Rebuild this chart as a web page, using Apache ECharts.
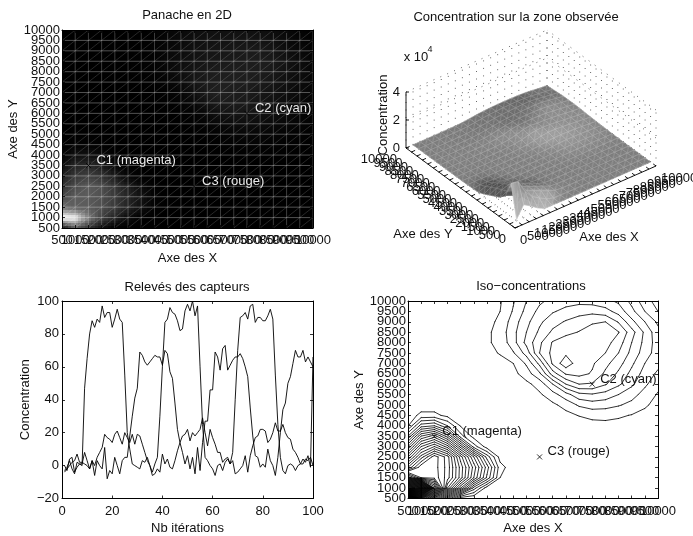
<!DOCTYPE html>
<html><head><meta charset="utf-8">
<style>html,body{margin:0;padding:0;background:#fff}#c{width:693px;height:536px}</style>
<script src="https://cdn.jsdelivr.net/npm/echarts@6/dist/echarts.min.js"></script>
</head><body><div id="c"></div>
<script>
const titles = ['Panache en 2D','Concentration sur la zone observée','Relevés des capteurs','Iso\u2212concentrations'];
const gridValues = [500,1000,1500,2000,2500,3000,3500,4000,4500,5000,5500,6000,6500,7000,7500,8000,8500,9000,9500,10000];
const tickLabels = ['500','1000','1500','2000','2500','3000','3500','4000','4500','5000','5500','6000','6500','7000','7500','8000','8500','9000','9500','10000'];
const tick3D = [0,500,1000,1500,2000,2500,3000,3500,4000,4500,5000,5500,6000,6500,7000,7500,8000,8500,9000,9500,10000];
const zTicks = [0,2,4];
// rows: Y = 500 ... 10000, columns: X = 500 ... 10000, in contour-level units
const concentration = [
[2,18,12,5,.1,.05,0,0,0,0,0,0,0,0,0,0,0,0,0,0],
[46,44,26,15,9,3.5,.4,.1,0,0,0,0,0,0,0,0,0,0,0,0],
[24,20,19.7,17.5,13.5,9,4.8,1,.3,.1,0,0,0,0,0,0,0,0,0,0],
[16,19.8,19.5,17.6,13.6,9.6,5.5,1.4,.4,.1,0,0,0,0,0,0,0,0,0,0],
[12,16.5,19.6,17.5,12.5,8,3.6,.6,.15,.05,0,0,0,0,0,0,0,0,0,0],
[8,13,15,12.5,7.5,2.5,.5,.1,0,0,0,0,0,0,0,0,0,0,0,0],
[4,9,10.5,7.5,2.4,.6,.1,0,0,0,0,0,0,0,.05,.1,.1,.1,.05,.05],
[.9,4.5,5,3,.9,.2,0,0,0,.05,.1,.15,.3,.4,.6,.7,.65,.5,.35,.2],
[.4,1.3,1.3,.7,.25,.1,0,0,.05,.1,.2,.4,.7,1.05,1.3,1.3,1.15,.95,.7,.4],
[.2,.4,.4,.2,.1,.1,0,.05,.1,.2,.45,.8,1.35,2.15,2.5,2.4,2.1,1.7,1.15,.65],
[.1,.1,.1,.1,.1,.1,.05,.1,.2,.4,.85,1.6,2.6,3.7,3.9,3.6,3,2.4,1.6,.9],
[.1,.1,.1,.1,.1,.1,.1,.2,.4,.75,1.4,3,5,6,5.9,5.1,4.2,3.2,2.2,1.3],
[.1,.1,.1,.1,.1,.1,.2,.4,.7,1.5,2.8,5.5,7.1,7.3,6.9,5.8,4.8,3.7,2.6,1.8],
[.1,.1,.1,.1,.2,.2,.3,.55,1,2.15,4.3,7.2,8.65,7.4,7.15,6.3,5.4,4.2,3,2.3],
[.1,.1,.2,.2,.3,.4,.6,1.1,1.9,3.4,6,7.3,7.8,7.9,7.7,7,6,4.7,3.5,2.5],
[.1,.2,.2,.3,.4,.6,.85,1.3,2.6,4.3,5.8,7.1,7.6,7.7,7.75,7.4,6.5,5,3.7,2.5],
[.1,.2,.2,.3,.4,.6,.8,1.4,2.7,4,5.2,6.2,6.7,7.05,7.35,7.6,7.05,5.4,3.8,2.3],
[.1,.2,.2,.3,.4,.5,.7,1.2,2.5,3.7,4.8,5.6,6.1,6.5,6.9,7,5.9,4.3,3,1.8],
[.1,.1,.2,.2,.3,.4,.5,1,2.1,3.3,4.3,4.9,5.3,5.6,5.7,5.4,4.6,3.3,2,1],
[.1,.1,.1,.2,.2,.3,.4,.9,1.9,3,3.8,4.3,4.6,4.7,4.6,4.3,3.8,2.7,1.4,.6]
];
const levelToConcentration = 520;
const contourLevels = [1,2,3,4,5,6,7,8,9,10,11,12,13,14,15,16,17,18,19,20,21,22,23,24,25,26,27,28,29,30,31,32,33,34,35,36,37,38,39,40,41,42,43,44,45];
const sensorX = [1500,7500,5500];
const sensorY = [3500,6000,2500];
const sensorNames = ['C1 (magenta)','C2 (cyan)','C3 (rouge)'];
const captorA = [-3,-1,3,-2,-5,2,1,0,47,65,80,88,84,89,87,97,90,93,93,84,89,95,89,87,55,20,10,1,0,-1,-2,3,2,5,0,-4,1,5,30,60,87,89,96,93,92,88,82,83,94,98,94,100,91,97,60,25,5,3,0,-2,-6,0,1,-3,2,4,1,8,40,70,90,91,93,89,97,98,87,90,90,88,88,91,95,89,55,25,5,-3,-5,0,1,0,-3,0,1,4,2,6,-1,66];
const captorB = [0,-3,4,5,-4,-1,1,1,8,3,-2,3,-6,3,0,-2,11,-8,-3,-5,5,0,-5,3,5,5,18,30,41,47,69,67,63,61,63,65,67,66,66,61,70,68,57,53,38,22,14,8,1,6,-2,5,-5,11,-3,14,27,27,46,46,69,66,58,71,73,58,61,64,66,66,68,65,60,54,35,18,6,5,-1,1,-1,10,3,0,-6,5,20,34,38,50,54,62,70,66,66,70,63,66,63,60];
const captorC = [-4,-2,0,2,3,7,2,2,1,0,-2,3,0,5,8,11,19,17,16,14,19,21,17,13,20,17,14,19,13,19,18,13,8,3,0,-6,-5,-2,-4,7,1,4,-1,-2,3,9,14,18,19,22,15,20,18,20,22,29,20,12,22,17,13,8,8,2,4,5,1,3,-5,-4,-2,0,6,-4,6,12,17,18,22,22,21,14,16,20,26,21,21,25,20,17,16,10,8,5,1,1,4,3,5,0];

const FONT='"Liberation Sans",Arial,sans-serif', INK='#111', TS=13;
const peak=46;
const grids=[
 {left:62,top:30,width:251,height:198},
 {left:62,top:301,width:251,height:199},
 {left:408,top:301,width:250,height:199},
 {left:346,top:0,width:346,height:268}];
function baseAxis(type,grid,extra){
  return Object.assign({type,gridIndex:grid,z:10,axisLine:{onZero:false,lineStyle:{color:'#000',width:1}},
    axisTick:{inside:true,length:3,lineStyle:{color:'#000',width:.8}},splitLine:{show:false},
    axisLabel:{color:INK,fontFamily:FONT,fontSize:TS,margin:6,interval:0,hideOverlap:false,formatter:v=>String(v).replace('-','\u2212')},
    nameTextStyle:{color:INK,fontFamily:FONT,fontSize:TS,verticalAlign:'middle'},nameLocation:'middle'},extra);
}
function mirror(grid,pos,extra){
  return baseAxis('value',grid,Object.assign({position:pos,axisLabel:{show:false},name:''},extra));
}
function catAxis(grid,pos,name,gap){
  const a=baseAxis('category',grid,{position:pos,data:tickLabels,boundaryGap:false,name,nameGap:gap});
  if(pos==='left')a.axisLabel=Object.assign({},a.axisLabel,{margin:2});
  return a;
}
const ext={min:500,max:10000,interval:500};
const xAxis=[
 catAxis(0,'bottom','Axe des X',30),
 mirror(0,'top',ext),
 baseAxis('value',1,{position:'bottom',min:0,max:100,interval:20,name:'Nb itérations',nameGap:30}),
 mirror(1,'top',{min:0,max:100,interval:20}),
 catAxis(2,'bottom','Axe des X',30),
 mirror(2,'top',ext),
 {type:'value',gridIndex:3,show:false,min:346,max:692}];
const yLines=baseAxis('value',1,{position:'left',min:-20,max:100,interval:20,name:'Concentration',nameGap:37});
yLines.axisLabel=Object.assign({},yLines.axisLabel,{margin:3});
const yAxis=[
 catAxis(0,'left','Axe des Y',41),
 mirror(0,'right',ext),
 yLines,
 mirror(1,'right',{min:-20,max:100,interval:20}),
 catAxis(2,'left','Axe des Y',42),
 mirror(2,'right',ext),
 {type:'value',gridIndex:3,show:false,min:0,max:268,inverse:true}];

const cells=[];
for(let j=0;j<19;j++)for(let i=0;i<19;i++)cells.push([gridValues[i],gridValues[j],i,j]);

function grey(v){const g=Math.round(Math.pow(Math.max(0,Math.min(1,v/peak)),1.2)*255);return 'rgb('+g+','+g+','+g+')';}
function heatCell(params,api){
  const i=api.value(2),j=api.value(3),Z=concentration,ch=[],N=4;
  const x0=gridValues[i],x1=gridValues[i+1],y0=gridValues[j],y1=gridValues[j+1];
  for(let a=0;a<N;a++)for(let b=0;b<N;b++){
    const s=(a+.5)/N,t=(b+.5)/N;
    const v=(1-s)*(1-t)*Z[j][i]+s*(1-t)*Z[j][i+1]+(1-s)*t*Z[j+1][i]+s*t*Z[j+1][i+1];
    const p=api.coord([x0+(x1-x0)*a/N,y0+(y1-y0)*b/N]),q=api.coord([x0+(x1-x0)*(a+1)/N,y0+(y1-y0)*(b+1)/N]);
    const l=Math.floor(p[0]),r=Math.ceil(q[0]),tp=Math.floor(q[1]),bt=Math.ceil(p[1]);
    ch.push({type:'rect',shape:{x:l,y:tp,width:r-l,height:bt-tp},style:{fill:grey(v)},silent:true});
  }
  return {type:'group',children:ch};
}
function heatMesh(params,api){
  const i=api.value(2),j=api.value(3);
  const a=api.coord([gridValues[i],gridValues[j]]),b=api.coord([gridValues[i+1],gridValues[j]]),
        c=api.coord([gridValues[i],gridValues[j+1]]),d=api.coord([gridValues[i+1],gridValues[j+1]]);
  const ln=(p,q,al,w)=>({type:'line',shape:{x1:p[0],y1:p[1],x2:q[0],y2:q[1]},style:{stroke:'rgba(255,255,255,'+al+')',lineWidth:w},silent:true});
  return {type:'group',children:[ln(c,d,.36,.9),ln(b,d,.27,.9),ln(a,d,.22,.7)]};
}
function contourLevel(params,api){
  const L=api.value(0),Z=concentration,ch=[];
  const seg=(p,q)=>{const A=api.coord(p),B=api.coord(q);
    ch.push({type:'line',shape:{x1:A[0],y1:A[1],x2:B[0],y2:B[1]},style:{stroke:'#000',lineWidth:.8,lineCap:'round'},silent:true});};
  for(let j=0;j<19;j++)for(let i=0;i<19;i++){
    const x0=gridValues[i],x1=gridValues[i+1],y0=gridValues[j],y1=gridValues[j+1];
    const a=Z[j][i],b=Z[j][i+1],c=Z[j+1][i+1],d=Z[j+1][i];
    const pts=[];
    if((a<L)!==(b<L))pts.push([x0+(x1-x0)*(L-a)/(b-a),y0]);
    if((b<L)!==(c<L))pts.push([x1,y0+(y1-y0)*(L-b)/(c-b)]);
    if((d<L)!==(c<L))pts.push([x0+(x1-x0)*(L-d)/(c-d),y1]);
    if((a<L)!==(d<L))pts.push([x0,y0+(y1-y0)*(L-a)/(d-a)]);
    if(pts.length===2)seg(pts[0],pts[1]);
    if(pts.length===4){const m=(a+b+c+d)/4; if((m<L)===(a<L)){seg(pts[0],pts[1]);seg(pts[2],pts[3]);}else{seg(pts[0],pts[3]);seg(pts[1],pts[2]);}}
  }
  return {type:'group',children:ch};
}
const O=[515,228],VX=[141,-62],VY=[-109,-80],VZ=56;
function proj(x,y,z){return [O[0]+x/10000*VX[0]+y/10000*VY[0], O[1]+x/10000*VX[1]+y/10000*VY[1]-z/40000*VZ];}
function nodeShade(i,j){
  const Z=concentration,n=19;
  const dx=(Z[j][Math.min(n,i+1)]-Z[j][Math.max(0,i-1)])/(Math.min(n,i+1)-Math.max(0,i-1));
  const dy=(Z[Math.min(n,j+1)][i]-Z[Math.max(0,j-1)][i])/(Math.min(n,j+1)-Math.max(0,j-1));
  const s=.4,nz=Math.sqrt(1+s*s*(dx*dx+dy*dy));
  return 124+58*(s*dy-.12*s*dx)/nz;
}
function surfCell(params,api){
  const i=api.value(2),j=api.value(3),Z=concentration,k=levelToConcentration,N=3,ch=[];
  const x=gridValues;
  const sh=[nodeShade(i,j),nodeShade(i+1,j),nodeShade(i+1,j+1),nodeShade(i,j+1)];
  const pt=(s,t)=>{const h=(1-s)*(1-t)*Z[j][i]+s*(1-t)*Z[j][i+1]+s*t*Z[j+1][i+1]+(1-s)*t*Z[j+1][i];
    return api.coord(proj(x[i]+500*s,x[j]+500*t,h*k));};
  for(let b=N-1;b>=0;b--)for(let a=N-1;a>=0;a--){
    const s=(a+.5)/N,t=(b+.5)/N;
    const g=Math.round((1-s)*(1-t)*sh[0]+s*(1-t)*sh[1]+s*t*sh[2]+(1-s)*t*sh[3]);
    const f='rgb('+g+','+g+','+g+')';
    ch.push({type:'polygon',shape:{points:[pt(a/N,b/N),pt((a+1)/N,b/N),pt((a+1)/N,(b+1)/N),pt(a/N,(b+1)/N)]},style:{fill:f,stroke:f,lineWidth:.6},silent:true});
  }
  const A=pt(0,0),B=pt(1,0),C=pt(1,1),D=pt(0,1);
  const mesh=(p,q,al)=>({type:'line',shape:{x1:p[0],y1:p[1],x2:q[0],y2:q[1]},style:{stroke:'rgba(255,255,255,'+al+')',lineWidth:.7},silent:true});
  ch.push(mesh(A,B,.24),mesh(B,C,.24),mesh(A,C,.22),mesh(C,D,.24),mesh(D,A,.24));
  return {type:'group',children:ch};
}
function box3D(params,api){
  const ch=[];
  const L=(a,b,st)=>{const p=api.coord(a),q=api.coord(b);ch.push({type:'line',shape:{x1:p[0],y1:p[1],x2:q[0],y2:q[1]},style:st,silent:true});};
  const dot={stroke:'#444',lineWidth:.8,lineDash:[1,6.5]};
  const solid={stroke:'#000',lineWidth:.9};
  const T=(pos,s,al,va,font)=>{const p=api.coord(pos);ch.push({type:'text',x:p[0],y:p[1],style:{text:s,fill:INK,font:font||(TS+'px '+FONT),align:al,verticalAlign:va},silent:true});};
  const M=10000,Zm=40000;
  tick3D.forEach(t=>{
    L(proj(t,M,0),proj(t,M,Zm),dot); L(proj(M,t,0),proj(M,t,Zm),dot);
    L(proj(t,0,0),proj(t,M,0),dot); L(proj(0,t,0),proj(M,t,0),dot);
  });
  zTicks.forEach(z=>{L(proj(0,M,z*1e4),proj(M,M,z*1e4),dot);L(proj(M,0,z*1e4),proj(M,M,z*1e4),dot);});
  L(proj(0,0,0),proj(M,0,0),solid);L(proj(0,0,0),proj(0,M,0),solid);L(proj(0,M,0),proj(0,M,Zm),solid);
  tick3D.forEach(t=>{
    L(proj(t,0,0),proj(t,260,0),solid); L(proj(0,t,0),proj(260,t,0),solid);
    const a=proj(t,0,0);T([a[0]+5,a[1]+12],String(t),'left','middle');
    const b=proj(0,t,0);T([b[0]-9,b[1]+11],String(t),'right','middle');
  });
  zTicks.forEach(z=>{const a=proj(0,M,z*1e4);L(a,[a[0]+3,a[1]],solid);T([a[0]-6,a[1]],String(z),'right','middle');});
  return {type:'group',children:ch};
}
function labels3D(params,api){
  const T=(pos,s,font,rot)=>{const p=api.coord(pos);return {type:'text',x:p[0],y:p[1],rotation:rot||0,style:{text:s,fill:INK,font:font,align:'center',verticalAlign:'middle'},silent:true};};
  const f=TS+'px '+FONT;
  return {type:'group',children:[T([383,115],'Concentration',f,Math.PI/2),T([423,234],'Axe des Y',f),T([609,237],'Axe des X',f),T([416,57],'x 10',f),T([430,50],'4','9px '+FONT)]};
}
function cross(idx,col){return {type:'scatter',xAxisIndex:idx,yAxisIndex:idx,z:6,
  data:sensorX.map((x,i)=>({value:[x,sensorY[i]],name:sensorNames[i]})),symbol:'path://M0,0L10,10M0,10L10,0',symbolSize:5,
  itemStyle:{color:'none',borderColor:'#000',borderWidth:.8,opacity:1},
  label:{show:true,position:'right',distance:3,offset:[0,-5],formatter:p=>p.name,color:col,fontFamily:FONT,fontSize:TS},silent:true,animation:false};}
const surfOrder=cells.slice().sort((a,b)=>(b[2]+b[3])-(a[2]+a[3]));
const option={animation:false,backgroundColor:'#fff',
 title:[[187,9,0],[516,11,1],[187,281,2],[531,280,3]].map(t=>({text:titles[t[2]],left:t[0],top:t[1],textAlign:'center',padding:0,textStyle:{fontFamily:FONT,fontSize:TS,fontWeight:'normal',color:INK}})),
 grid:grids,xAxis,yAxis,
 series:[
  {type:'custom',xAxisIndex:1,yAxisIndex:1,renderItem:heatCell,data:cells,progressive:0,silent:true,z:2},
  {type:'custom',xAxisIndex:1,yAxisIndex:1,renderItem:heatMesh,data:cells,progressive:0,silent:true,z:3},
  cross(1,'#e8e8e8'),
  ...[captorA,captorB,captorC].map(a=>({type:'line',xAxisIndex:2,yAxisIndex:2,data:a.map((v,i)=>[i+1,v]),showSymbol:false,symbol:'none',lineStyle:{color:'#000',width:.9},silent:true})),
  {type:'custom',xAxisIndex:5,yAxisIndex:5,renderItem:contourLevel,data:contourLevels.map(l=>[l]),progressive:0,silent:true,clip:true,z:3},
  cross(5,INK),
  {type:'custom',xAxisIndex:6,yAxisIndex:6,renderItem:box3D,data:[[0]],silent:true,z:2},
  {type:'custom',xAxisIndex:6,yAxisIndex:6,renderItem:surfCell,data:surfOrder,progressive:0,silent:true,z:3},
  {type:'custom',xAxisIndex:6,yAxisIndex:6,renderItem:labels3D,data:[[0]],silent:true,z:4}
 ]};
echarts.init(document.getElementById('c'),null,{renderer:'canvas'}).setOption(option);
</script></body></html>
